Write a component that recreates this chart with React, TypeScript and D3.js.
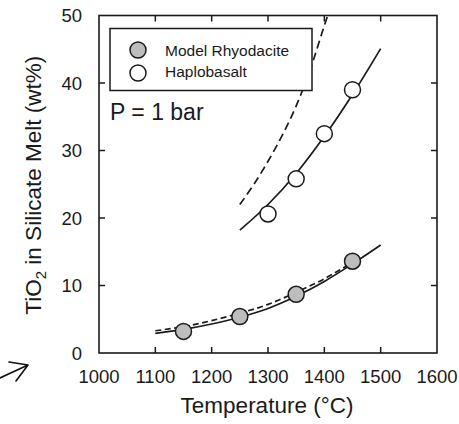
import { useEffect, useRef } from "react"
import * as d3 from "d3"

// measured points
const rhyoTemps = [1150, 1250, 1350, 1450]
const rhyoValues = [3.2, 5.4, 8.7, 13.6]
const haploTemps = [1300, 1350, 1400, 1450]
const haploValues = [20.6, 25.8, 32.5, 39.0]

// model curves
const rhyoFitTemps = [1100, 1150, 1200, 1250, 1300, 1350, 1400, 1450, 1500]
const rhyoFitValues = [2.9, 3.5, 4.3, 5.3, 6.6, 8.4, 10.6, 13.2, 16.0]
const rhyoDashTemps = [1100, 1150, 1200, 1250, 1300, 1350, 1400, 1455]
const rhyoDashValues = [3.3, 3.9, 4.8, 5.9, 7.2, 9.0, 11.0, 13.7]
const haploFitTemps = [1250, 1300, 1350, 1400, 1450, 1500]
const haploFitValues = [18.2, 22.0, 26.6, 32.1, 38.3, 45.1]
const haploDashTemps = [1250, 1275, 1300, 1325, 1350, 1375, 1400, 1406]
const haploDashValues = [22.0, 25.0, 28.4, 32.2, 36.6, 42.0, 48.5, 50]

const xTicks = [1000, 1100, 1200, 1300, 1400, 1500, 1600]
const yTicks = [0, 10, 20, 30, 40, 50]
const legendLabels = ["Model Rhyodacite", "Haplobasalt"]

const FONT = "'Liberation Sans', Arial, Helvetica, sans-serif"

export default function App() {
  const svgRef = useRef<SVGSVGElement>(null)

  useEffect(() => {
    if (!svgRef.current) return
    const width = 459
    const height = 424
    const margin = { top: 15.5, right: 22, bottom: 71, left: 99 }

    const svg = d3.select(svgRef.current)
    svg.selectAll("*").remove()
    svg.attr("width", width).attr("height", height)

    const x = d3.scaleLinear().domain([1000, 1600]).range([margin.left, width - margin.right])
    const y = d3.scaleLinear().domain([0, 50]).range([height - margin.bottom, margin.top])

    const stroke = "#1a1a1a"
    const tickLen = 6

    // frame
    svg
      .append("rect")
      .attr("x", x(1000))
      .attr("y", y(50))
      .attr("width", x(1600) - x(1000))
      .attr("height", y(0) - y(50))
      .attr("fill", "none")
      .attr("stroke", stroke)
      .attr("stroke-width", 1.6)

    // inward ticks on all sides
    const g = svg.append("g").attr("stroke", stroke).attr("stroke-width", 1.5)
    xTicks.slice(1, -1).forEach((t) => {
      g.append("line").attr("x1", x(t)).attr("x2", x(t)).attr("y1", y(0)).attr("y2", y(0) - tickLen)
      g.append("line").attr("x1", x(t)).attr("x2", x(t)).attr("y1", y(50)).attr("y2", y(50) + tickLen)
    })
    yTicks.slice(1, -1).forEach((t) => {
      g.append("line").attr("x1", x(1000)).attr("x2", x(1000) + tickLen).attr("y1", y(t)).attr("y2", y(t))
      g.append("line").attr("x1", x(1600)).attr("x2", x(1600) - tickLen).attr("y1", y(t)).attr("y2", y(t))
    })

    // tick labels
    svg
      .append("g")
      .selectAll("text")
      .data(xTicks)
      .enter()
      .append("text")
      .attr("x", (d) => x(d))
      .attr("y", y(0) + 30)
      .attr("text-anchor", "middle")
      .attr("font-family", FONT)
      .attr("font-size", 18.5)
      .attr("fill", stroke)
      .text((d) => d)

    svg
      .append("g")
      .selectAll("text")
      .data(yTicks)
      .enter()
      .append("text")
      .attr("x", x(1000) - 17)
      .attr("y", (d) => y(d) + 6.5)
      .attr("text-anchor", "end")
      .attr("font-family", FONT)
      .attr("font-size", 18.5)
      .attr("fill", stroke)
      .text((d) => d)

    // axis titles
    svg
      .append("text")
      .attr("x", (x(1000) + x(1600)) / 2 - 1)
      .attr("y", 413)
      .attr("text-anchor", "middle")
      .attr("font-family", FONT)
      .attr("font-size", 22.5)
      .attr("fill", stroke)
      .text("Temperature (°C)")

    const yTitle = svg
      .append("text")
      .attr("transform", `translate(41,${(y(0) + y(50)) / 2 + 1}) rotate(-90)`)
      .attr("text-anchor", "middle")
      .attr("font-family", FONT)
      .attr("font-size", 22.5)
      .attr("fill", stroke)
    yTitle.append("tspan").text("TiO")
    yTitle.append("tspan").attr("font-size", 15).attr("dy", 5).text("2")
    yTitle.append("tspan").attr("dy", -5).text(" in Silicate Melt (wt%)")

    // curves
    const line = d3
      .line<[number, number]>()
      .x((d) => x(d[0]))
      .y((d) => y(d[1]))
      .curve(d3.curveMonotoneX)

    const curves = [
      { t: rhyoFitTemps, v: rhyoFitValues, dash: null },
      { t: rhyoDashTemps, v: rhyoDashValues, dash: "6,3.5" },
      { t: haploFitTemps, v: haploFitValues, dash: null },
      { t: haploDashTemps, v: haploDashValues, dash: "8,4.5" },
    ]
    curves.forEach((c) => {
      const pts = c.t.map((t, i) => [t, c.v[i]] as [number, number])
      svg
        .append("path")
        .attr("d", line(pts))
        .attr("fill", "none")
        .attr("stroke", stroke)
        .attr("stroke-width", 1.7)
        .attr("stroke-dasharray", c.dash)
    })

    // markers
    const grey = "#bdbdbd"
    svg
      .append("g")
      .selectAll("circle")
      .data(rhyoTemps.map((t, i) => [t, rhyoValues[i]]))
      .enter()
      .append("circle")
      .attr("cx", (d) => x(d[0]))
      .attr("cy", (d) => y(d[1]))
      .attr("r", 8)
      .attr("fill", grey)
      .attr("stroke", stroke)
      .attr("stroke-width", 1.5)

    svg
      .append("g")
      .selectAll("circle")
      .data(haploTemps.map((t, i) => [t, haploValues[i]]))
      .enter()
      .append("circle")
      .attr("cx", (d) => x(d[0]))
      .attr("cy", (d) => y(d[1]))
      .attr("r", 8)
      .attr("fill", "#fff")
      .attr("stroke", stroke)
      .attr("stroke-width", 1.5)

    // legend
    const lg = svg.append("g")
    lg.append("rect")
      .attr("x", 110)
      .attr("y", 28.5)
      .attr("width", 202)
      .attr("height", 62)
      .attr("fill", "#fff")
      .attr("stroke", stroke)
      .attr("stroke-width", 1.5)
    legendLabels.forEach((label, i) => {
      lg.append("circle")
        .attr("cx", 138)
        .attr("cy", 50 + i * 23)
        .attr("r", 8)
        .attr("fill", i === 0 ? grey : "#fff")
        .attr("stroke", stroke)
        .attr("stroke-width", 1.5)
      lg.append("text")
        .attr("x", 165)
        .attr("y", 56 + i * 21)
        .attr("font-family", FONT)
        .attr("font-size", 15.5)
        .attr("fill", stroke)
        .text(label)
    })

    svg
      .append("text")
      .attr("x", 110)
      .attr("y", 120)
      .attr("font-family", FONT)
      .attr("font-size", 23)
      .attr("fill", stroke)
      .text("P = 1 bar")

    // hand-drawn arrow at lower left
    svg
      .append("path")
      .attr("d", "M0,378 L28,365 M9,362 L28,365 L16,381")
      .attr("fill", "none")
      .attr("stroke", "#111")
      .attr("stroke-width", 1.6)
      .attr("stroke-linecap", "round")
      .attr("stroke-linejoin", "round")
  }, [])

  return (
    <div style={{ position: "absolute", left: 0, top: 0, background: "#fff" }}>
      <svg ref={svgRef} style={{ display: "block" }} />
    </div>
  )
}
